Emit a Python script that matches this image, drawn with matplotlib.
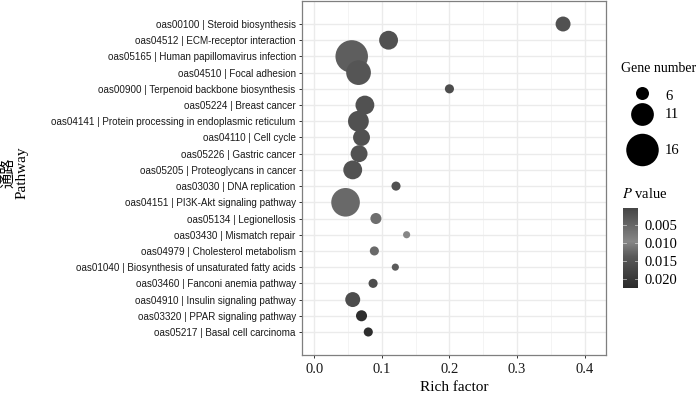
#!/usr/bin/env python3

import matplotlib
matplotlib.use("Agg")
import matplotlib.pyplot as plt
import numpy as np
from matplotlib.colors import LinearSegmentedColormap, Normalize
from matplotlib.cm import ScalarMappable

# pathways, top to bottom as shown
pathways = [
    "oas00100 | Steroid biosynthesis",
    "oas04512 | ECM-receptor interaction",
    "oas05165 | Human papillomavirus infection",
    "oas04510 | Focal adhesion",
    "oas00900 | Terpenoid backbone biosynthesis",
    "oas05224 | Breast cancer",
    "oas04141 | Protein processing in endoplasmic reticulum",
    "oas04110 | Cell cycle",
    "oas05226 | Gastric cancer",
    "oas05205 | Proteoglycans in cancer",
    "oas03030 | DNA replication",
    "oas04151 | PI3K-Akt signaling pathway",
    "oas05134 | Legionellosis",
    "oas03430 | Mismatch repair",
    "oas04979 | Cholesterol metabolism",
    "oas01040 | Biosynthesis of unsaturated fatty acids",
    "oas03460 | Fanconi anemia pathway",
    "oas04910 | Insulin signaling pathway",
    "oas03320 | PPAR signaling pathway",
    "oas05217 | Basal cell carcinoma",
]
rich_factor = [0.368, 0.110, 0.0555, 0.0656, 0.200, 0.075, 0.0654, 0.070, 0.0664, 0.057,
               0.121, 0.0464, 0.0913, 0.1367, 0.089, 0.120, 0.0871, 0.057, 0.070, 0.080]
gene_number = [7, 9, 16, 12, 4, 9, 10, 8, 8, 9, 4, 14, 5, 3, 4, 3, 4, 7, 5, 4]
p_value = [0.0019, 0.0019, 0.0039, 0.0025, 0.0015, 0.0019, 0.0019, 0.0019, 0.0022, 0.0022,
           0.0020, 0.0054, 0.0061, 0.0096, 0.0054, 0.0035, 0.016, 0.016, 0.0218, 0.0218]

legend_genes = [6, 11, 16]
cbar_ticks = [0.005, 0.010, 0.015, 0.020]
x_ticks = [0.0, 0.1, 0.2, 0.3, 0.4]

DPI = 100
SERIF = ["Liberation Serif", "Noto Sans CJK SC", "DejaVu Serif"]
SANS = ["Liberation Sans", "DejaVu Sans"]


def marker_area(n):
    # diameter in pixels -> area in points^2
    d_px = 1.3 + 1.95 * np.asarray(n, dtype=float)
    return (d_px * 72.0 / DPI) ** 2


cmap = LinearSegmentedColormap.from_list(
    "pgray",
    [(0.0, "#454545"), (0.42, "#868686"), (0.6, "#5a5a5a"), (1.0, "#2a2a2a")],
)
norm = Normalize(vmin=0.0002, vmax=0.0225)

fig = plt.figure(figsize=(7.0, 3.93), dpi=DPI)
W, H = 700.0, 393.0


def fig_rect(x0, y0, x1, y1):
    return [x0 / W, 1 - y1 / H, (x1 - x0) / W, (y1 - y0) / H]


ax = fig.add_axes(fig_rect(302, 0.5, 606, 355))

n = len(pathways)
ypos = np.arange(n)[::-1] + 1
ax.scatter(rich_factor, ypos, s=marker_area(gene_number), c=p_value, cmap=cmap, norm=norm,
           linewidths=0, zorder=3)

ax.set_xlim(-0.018, 0.4315)
ax.set_ylim(-0.42, 21.45)
ax.set_xticks(x_ticks)
ax.set_xticks([0.05, 0.15, 0.25, 0.35], minor=True)
ax.set_xticklabels([f"{v:.1f}" for v in x_ticks], fontfamily=SERIF, fontsize=10.5, color="#1a1a1a")
ax.set_yticks(ypos)
ax.set_yticklabels(pathways, fontfamily=SANS, fontsize=7.1, color="#1a1a1a")
ax.tick_params(axis="both", which="major", length=2.5, width=0.7, color="#333333", pad=2)
ax.tick_params(axis="x", which="minor", length=0)
ax.tick_params(axis="x", pad=3)
ax.grid(True, which="major", color="#ebebeb", linewidth=1.0, zorder=0)
ax.grid(True, which="minor", axis="x", color="#f2f2f2", linewidth=0.6, zorder=0)
ax.set_axisbelow(True)
for sp in ax.spines.values():
    sp.set_color("#7f7f7f")
    sp.set_linewidth(0.9)

ax.set_xlabel("Rich factor", fontfamily=SERIF, fontsize=11, labelpad=4)
fig.text(15 / W, 1 - 173 / H, "通路\nPathway", rotation=90, ha="center", va="center",
         fontfamily=SERIF, fontsize=11, linespacing=1.0)

# size legend drawn in a pixel-coordinate overlay
lax = fig.add_axes([0, 0, 1, 1], facecolor="none")
lax.set_xlim(0, W)
lax.set_ylim(H, 0)
lax.axis("off")
lax.text(621, 68.5, "Gene number", fontfamily=SERIF, fontsize=10, va="center", ha="left")
key_y = [93.5, 114.5, 150]
label_y = [97, 114.5, 150]
lax.scatter([642.5] * len(legend_genes), key_y, s=marker_area(legend_genes), c="black",
            linewidths=0)
for g, yk in zip(legend_genes, label_y):
    lax.text(665, yk, str(g), fontfamily=SERIF, fontsize=10.5, va="center", ha="left")

lax.text(622, 194, "$P$ value", fontfamily=SERIF, fontsize=10.5, va="center", ha="left",
         math_fontfamily="stix")

cax = fig.add_axes(fig_rect(623, 208, 638, 288))
sm = ScalarMappable(norm=norm, cmap=cmap)
cb = fig.colorbar(sm, cax=cax)
cb.outline.set_visible(False)
cax.invert_yaxis()
cb.set_ticks(cbar_ticks)
cb.set_ticklabels([f"{t:.3f}" for t in cbar_ticks])
cax.tick_params(length=0, pad=5)
for lbl in cax.get_yticklabels():
    lbl.set_fontfamily(SERIF)
    lbl.set_fontsize(10.5)
for t in cbar_ticks:
    cax.plot([0, 0.2], [t, t], color="white", lw=0.6, alpha=0.6, transform=cax.get_yaxis_transform())
    cax.plot([0.8, 1.0], [t, t], color="white", lw=0.6, alpha=0.6, transform=cax.get_yaxis_transform())

fig.savefig("out.png", dpi=DPI)
